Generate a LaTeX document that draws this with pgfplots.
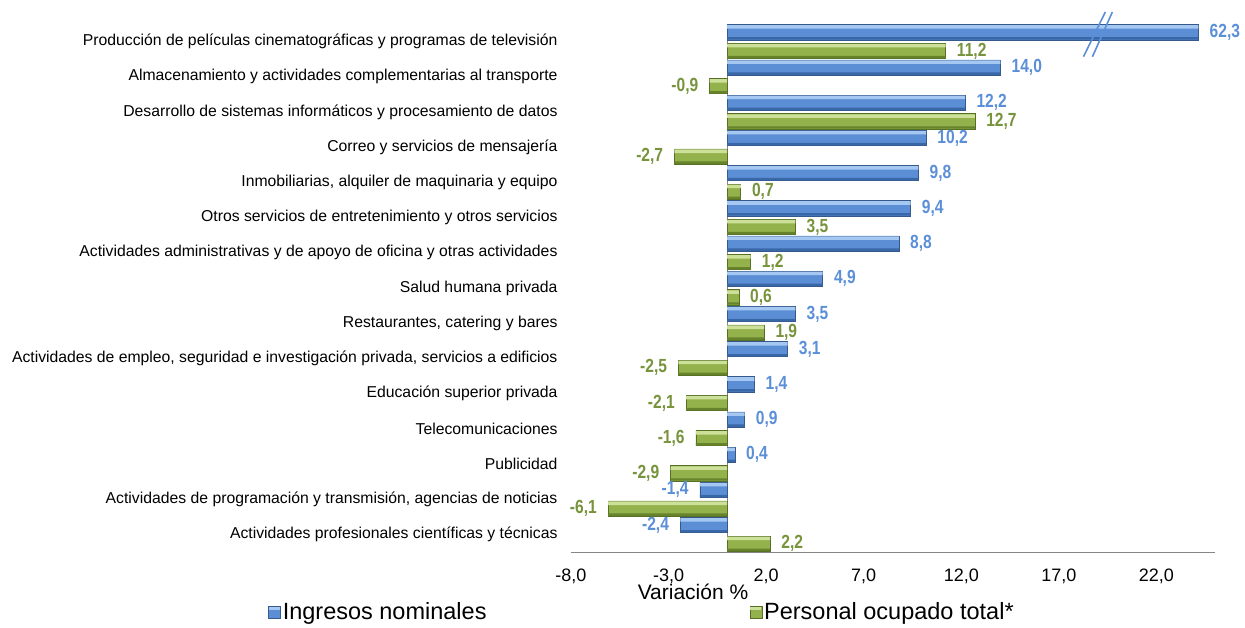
\documentclass[border=0pt]{standalone}
\usepackage{fontspec}
\setmainfont{Liberation Sans}
\newfontfamily\valfont[FakeStretch=0.82]{Liberation Sans}
\usepackage{pgfplots}
\usepackage{pgfplotstable}
\pgfplotsset{compat=1.18}
\definecolor{bHi}{HTML}{A4C8F2}
\definecolor{bMid}{HTML}{5B8ED4}
\definecolor{bLo}{HTML}{3A67A8}
\definecolor{bEdge}{HTML}{35598A}
\definecolor{bLab}{HTML}{5B8FD8}
\definecolor{gHi}{HTML}{CCE09A}
\definecolor{gMid}{HTML}{93B24C}
\definecolor{gLo}{HTML}{66832C}
\definecolor{gEdge}{HTML}{566F24}
\definecolor{gLab}{HTML}{77933C}
\definecolor{axgray}{HTML}{868686}
\pgfplotsset{sqlegend/.style={legend image code/.code={%
  \path[##1] (0pt,-6pt) rectangle (12pt,6pt);
  \fill[##1,draw=none,fill=\pgfkeysvalueof{/pgfplots/hicolor}] (0.6pt,2pt) rectangle (11.4pt,5.4pt);}},
  hicolor/.initial=white}

\pgfplotstableread{
y x lab
15 24.15 62,3
14 14.0 14,0
13 12.2 12,2
12 10.2 10,2
11 9.8 9,8
10 9.4 9,4
9 8.8 8,8
8 4.9 4,9
7 3.5 3,5
6 3.1 3,1
5 1.4 1,4
4 0.9 0,9
3 0.4 0,4
2 -1.4 -1,4
1 -2.4 -2,4
}\ingresos
\pgfplotstableread{
y x lab
15 11.2 11,2
14 -0.9 -0,9
13 12.7 12,7
12 -2.7 -2,7
11 0.7 0,7
10 3.5 3,5
9 1.2 1,2
8 0.6 0,6
7 1.9 1,9
6 -2.5 -2,5
5 -2.1 -2,1
4 -1.6 -1,6
3 -2.9 -2,9
2 -6.1 -6,1
1 2.2 2,2
}\personal

\begin{document}
\begin{tikzpicture}
\useasboundingbox (0,0) rectangle (1245pt,627pt);
\begin{axis}[
  at={(571pt,75pt)}, anchor=south west,
  scale only axis, width=644pt, height=528pt,
  xmin=-8, xmax=25, ymin=0.5, ymax=15.5,
  xbar, bar width=0.43,
  axis x line*=bottom, axis y line*=left,
  x axis line style={draw=axgray, line width=0.8pt},
  y axis line style={draw=none},
  major tick length=0pt,
  xtick={-8,-3,2,7,12,17,22},
  ytick={1,...,15},
  yticklabels={
    Actividades profesionales científicas y técnicas,
    {Actividades de programación y transmisión, agencias de noticias},
    Publicidad,
    Telecomunicaciones,
    Educación superior privada,
    {Actividades de empleo, seguridad e investigación privada, servicios a edificios},
    {Restaurantes, catering y bares},
    Salud humana privada,
    Actividades administrativas y de apoyo de oficina y otras actividades,
    Otros servicios de entretenimiento y otros servicios,
    {Inmobiliarias, alquiler de maquinaria y equipo},
    Correo y servicios de mensajería,
    Desarrollo de sistemas informáticos y procesamiento de datos,
    Almacenamiento y actividades complementarias al transporte,
    Producción de películas cinematográficas y programas de televisión},
  xticklabel style={font=\fontsize{18}{21}\selectfont, yshift=-13pt,
    /pgf/number format/fixed, /pgf/number format/fixed zerofill,
    /pgf/number format/precision=1, /pgf/number format/use comma,
    /pgf/number format/assume math mode=true},
  yticklabel style={font=\fontsize{15.75}{18}\selectfont, xshift=-10pt},
  clip=false,
  legend columns=2,
  legend style={at={(-0.4705,-0.1136)}, anchor=west, draw=none, fill=none,
    inner sep=0pt, font=\fontsize{23.5}{27}\selectfont,
    nodes={inner xsep=2pt},
    /tikz/every even column/.append style={column sep=261pt}},
]
\draw[axgray, line width=0.8pt] (axis cs:0,0.5) -- (axis cs:0,15.5);
% Ingresos nominales
\addplot[fill=bMid, draw=bEdge, line width=0.6pt, bar shift=0.265,
  point meta=explicit symbolic,
  nodes near coords={\pgfplotspointmeta},
  visualization depends on={rawx \as \rawx},
  every node near coord/.append style={anchor={\ifdim\rawx pt<0pt east\else west\fi}, font=\valfont\bfseries\fontsize{19}{21}\selectfont, text=bLab, inner xsep=11pt},
  hicolor=bHi, sqlegend
] table[x=x, y=y, meta=lab] {\ingresos};
\addlegendentry{Ingresos nominales}
% Personal ocupado total
\addplot[fill=gMid, draw=gEdge, line width=0.6pt, bar shift=-0.265,
  point meta=explicit symbolic,
  nodes near coords={\pgfplotspointmeta},
  visualization depends on={rawx \as \rawx},
  every node near coord/.append style={anchor={\ifdim\rawx pt<0pt east\else west\fi}, font=\valfont\bfseries\fontsize{19}{21}\selectfont, text=gLab, inner xsep=11pt},
  hicolor=gHi, sqlegend
] table[x=x, y=y, meta=lab] {\personal};
\addlegendentry{Personal ocupado total*}
% bevel highlights and shadows
\addplot[forget plot, fill=bHi, draw=none, bar width=0.1, bar shift=0.415] table[x=x, y=y] {\ingresos};
\addplot[forget plot, fill=bLo, draw=none, bar width=0.07, bar shift=0.09] table[x=x, y=y] {\ingresos};
\addplot[forget plot, fill=gHi, draw=none, bar width=0.1, bar shift=-0.115] table[x=x, y=y] {\personal};
\addplot[forget plot, fill=gLo, draw=none, bar width=0.07, bar shift=-0.44] table[x=x, y=y] {\personal};
\draw[bLab, line width=1.6pt] (axis cs:19.38,15.84) -- (axis cs:18.26,14.57);
\draw[bLab, line width=1.6pt] (axis cs:19.74,15.84) -- (axis cs:18.72,14.57);
\end{axis}
\node[font=\fontsize{21}{24}\selectfont] at (693pt,35pt) {Variación \%};
\end{tikzpicture}
\end{document}
